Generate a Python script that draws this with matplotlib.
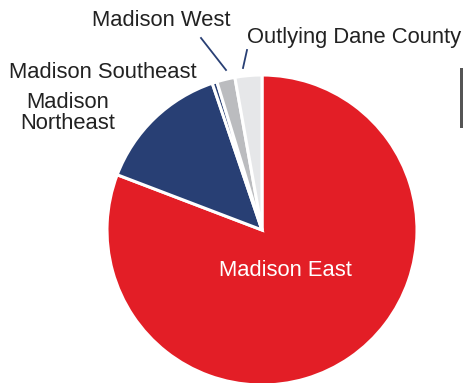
import matplotlib.pyplot as plt
from matplotlib.patches import Rectangle

plt.rcParams['font.family'] = ['Liberation Sans', 'DejaVu Sans']

# share of students by attendance area (%)
labels = ["Madison East", "Madison Northeast", "Madison Southeast", "Madison West", "Outlying Dane County"]
shares = [80.8, 14.0, 0.5, 1.9, 2.8]
colors = ["#E31E26", "#283F74", "#283F74", "#BBBCBF", "#E6E7E9"]

W, H = 464, 383
fig = plt.figure(figsize=(W / 100, H / 100), dpi=100)
ax = fig.add_axes([0, 0, 1, 1])
ax.set_xlim(0, W)
ax.set_ylim(0, H)
ax.set_aspect('equal')
ax.axis('off')

cx, cy, r = 262, H - 230, 155
ax.pie(shares, colors=colors, startangle=90, counterclock=False,
       center=(cx, cy), radius=r, frame=True,
       wedgeprops=dict(edgecolor='white', linewidth=2.2))
ax.set_xlim(0, W)
ax.set_ylim(0, H)
ax.axis('off')

fs = 15.8
tc = '#222222'
ax.text(285, H - 270, labels[0], color='white', fontsize=fs, ha='center', va='center')
ax.text(68, H - 113, "Madison\nNortheast", color=tc, fontsize=fs, ha='center', va='center', linespacing=1.0)
ax.text(9, H - 72, labels[2], color=tc, fontsize=fs, ha='left', va='center')
ax.text(161, H - 20, labels[3], color=tc, fontsize=fs, ha='center', va='center')
ax.text(354, H - 37, labels[4], color=tc, fontsize=fs, ha='center', va='center')

# leader lines
ax.plot([201, 226], [H - 38, H - 70], color='#283F74', lw=1.3)
ax.plot([247, 243], [H - 50, H - 68], color='#283F74', lw=1.3)

# clipped element at right edge
ax.add_patch(Rectangle((460, H - 128), 4, 60, color='#555555', lw=0))

fig.savefig('out.png', dpi=100)
